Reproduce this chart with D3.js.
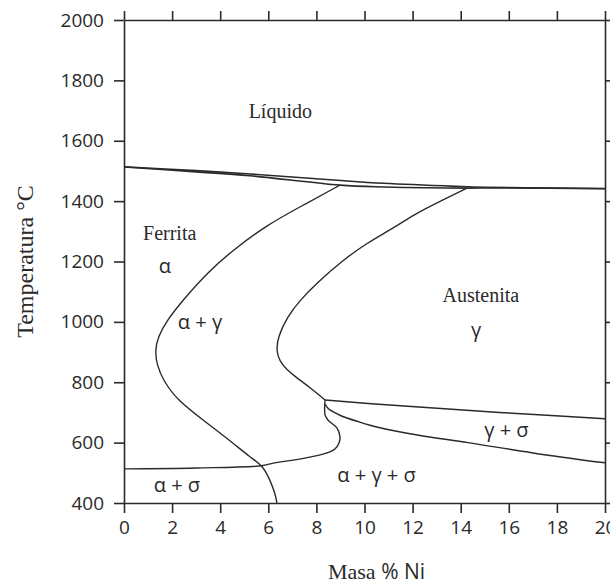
<!DOCTYPE html>
<html>
<head>
<meta charset="utf-8">
<script src="https://cdn.jsdelivr.net/npm/d3@7"></script>
<style>
  html, body { margin: 0; padding: 0; background: #fff; }
  svg { display: block; }
</style>
</head>
<body>
<script>
// Fe–Cr–Ni isopleth: phase boundaries as [Ni wt%, T °C] pairs
const xTicks = [0, 2, 4, 6, 8, 10, 12, 14, 16, 18, 20];
const yTicks = [400, 600, 800, 1000, 1200, 1400, 1600, 1800, 2000];

const liquidus = [[0, 1514], [3, 1501], [5.24, 1490], [8.86, 1469], [10.8, 1459], [13.8, 1449], [15, 1446], [20, 1442]];
const solidus = [[0, 1513], [3, 1497], [5.24, 1484], [8.98, 1453], [10.8, 1447], [14.26, 1443], [15.5, 1444], [20, 1441]];

const ferriteBoundary = [
  [8.98, 1453], [8.98, 1453], [7.32, 1381], [5.95, 1321], [4.53, 1238], [3.45, 1162],
  [2.45, 1072], [1.79, 1006], [1.41, 950], [1.29, 905], [1.37, 857],
  [1.62, 808], [2.2, 741], [3.45, 665], [4.53, 599], [5.24, 552],
  [5.78, 523], [6.07, 476], [6.28, 433], [6.36, 400]
];

const austeniteBoundary = [
  [14.26, 1443], [14.26, 1443], [13.01, 1394], [12.18, 1361], [11.06, 1304], [10.1, 1261],
  [9.11, 1205], [8.02, 1129], [7.32, 1072], [6.78, 1016], [6.4, 950],
  [6.33, 905], [6.5, 862], [7.05, 822], [7.75, 782], [8.36, 741], [8.36, 741]
];

const sigmaBoundary = [
  [0, 513], [3, 516], [5.78, 524], [6.2, 532], [7.03, 542], [7.73, 552],
  [8.44, 566], [8.77, 579], [8.94, 599], [8.98, 619], [8.86, 648],
  [8.48, 675], [8.36, 692], [8.36, 741]
];

const gammaSigmaUpper = [[8.36, 741], [11.5, 722], [15.6, 700], [20, 679]];
const gammaSigmaLower = [[8.36, 728], [8.5, 712], [9.0, 690], [9.8, 668], [10.6, 650], [12.2, 625], [14.3, 600], [17, 566], [20, 533]];

// region labels: text, Ni, T, font family
const regionLabels = [
  ["Líquido", 6.5, 1675, "serif"],
  ["Ferrita", 1.9, 1271, "serif"],
  ["α", 1.7, 1162, "sans"],
  ["α + γ", 3.16, 975, "sans"],
  ["Austenita", 14.84, 1066, "serif"],
  ["γ", 14.64, 950, "sans"],
  ["γ + σ", 15.9, 620, "sans"],
  ["α + γ + σ", 10.5, 470, "sans"],
  ["α + σ", 2.2, 436, "sans"]
];

const W = 610, H = 585;
const margin = { left: 124, top: 20, right: 5, bottom: 82 };

const svg = d3.select("body").append("svg")
  .attr("width", W).attr("height", H);

const x = d3.scaleLinear().domain([0, 20]).range([margin.left, W - margin.right]);
const y = d3.scaleLinear().domain([400, 2000]).range([H - margin.bottom, margin.top]);

const ink = "#2a2a2a";
const serif = "'Liberation Serif', 'Times New Roman', serif";
const sans = "'Open Sans', 'Noto Sans', sans-serif";

// frame + ticks on all four sides
function styleAxis(g) {
  g.selectAll(".domain").attr("stroke", ink).attr("stroke-width", 1.6);
  g.selectAll(".tick line").attr("stroke", ink).attr("stroke-width", 1.6);
  g.selectAll(".tick text").attr("fill", ink).attr("font-family", sans).attr("font-size", 19);
}

svg.append("g").attr("transform", `translate(0,${y(400)})`)
  .call(d3.axisBottom(x).tickValues(xTicks).tickSize(10).tickSizeOuter(0).tickPadding(8).tickFormat(d3.format("d")))
  .call(styleAxis);
svg.append("g").attr("transform", `translate(0,${y(2000)})`)
  .call(d3.axisTop(x).tickValues(xTicks).tickSize(9).tickSizeOuter(0).tickFormat(""))
  .call(styleAxis);
svg.append("g").attr("transform", `translate(${x(0)},0)`)
  .call(d3.axisLeft(y).tickValues(yTicks).tickSize(10).tickSizeOuter(0).tickPadding(10).tickFormat(d3.format("d")))
  .call(styleAxis);
svg.append("g").attr("transform", `translate(${x(20)},0)`)
  .call(d3.axisRight(y).tickValues(yTicks).tickSize(8).tickSizeOuter(0).tickFormat(""))
  .call(styleAxis);

// phase boundaries: smooth B-splines for the two C-shaped solvus curves
const lineThrough = d3.line().x(d => x(d[0])).y(d => y(d[1])).curve(d3.curveCatmullRom.alpha(0.5));
const lineSmooth = d3.line().x(d => x(d[0])).y(d => y(d[1])).curve(d3.curveBasis);
const boundaries = [
  [liquidus, lineThrough, 1.6], [solidus, lineThrough, 1.6],
  [ferriteBoundary, lineSmooth, 1.4], [austeniteBoundary, lineSmooth, 1.4],
  [sigmaBoundary, lineThrough, 1.4], [gammaSigmaUpper, lineThrough, 1.5], [gammaSigmaLower, lineThrough, 1.5]
];
svg.append("g").selectAll("path").data(boundaries).join("path")
  .attr("d", d => d[1](d[0]))
  .attr("fill", "none")
  .attr("stroke", ink)
  .attr("stroke-width", d => d[2])
  .attr("stroke-linejoin", "round");

// region labels
svg.append("g").selectAll("text").data(regionLabels).join("text")
  .attr("x", d => x(d[1]))
  .attr("y", d => y(d[2]))
  .attr("text-anchor", "middle")
  .attr("fill", ink)
  .attr("font-family", d => d[3] === "serif" ? serif : sans)
  .attr("font-size", 20)
  .text(d => d[0]);

// axis titles
svg.append("text")
  .attr("transform", `translate(33,${(y(400) + y(2000)) / 2}) rotate(-90)`)
  .attr("text-anchor", "middle")
  .attr("fill", ink)
  .attr("font-family", serif)
  .attr("font-size", 24)
  .text("Temperatura °C");

const xt = svg.append("text")
  .attr("x", x(10.5))
  .attr("y", 579)
  .attr("text-anchor", "middle")
  .attr("fill", ink);
xt.append("tspan").attr("font-family", serif).attr("font-size", 22).text("Masa ");
xt.append("tspan").attr("font-family", sans).attr("font-size", 21).text("% Ni");
</script>
</body>
</html>
